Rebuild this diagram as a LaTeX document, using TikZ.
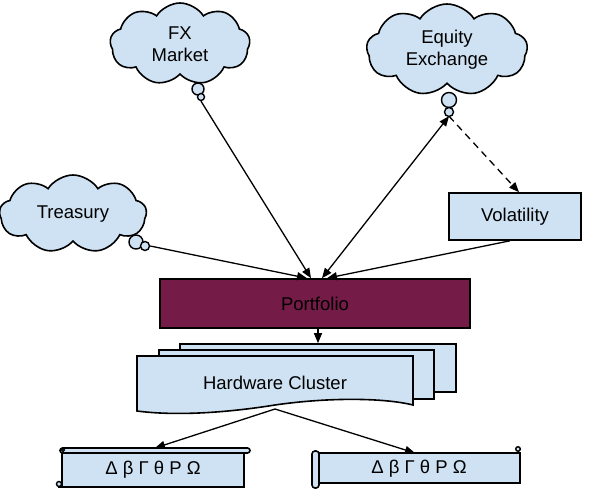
\documentclass[tikz,border=0pt]{standalone}
\usepackage{fontspec}
\setmainfont{Liberation Sans}
\usetikzlibrary{shapes.symbols,arrows.meta}
\definecolor{lb}{HTML}{CFE2F3}
\definecolor{maroonfill}{HTML}{741B47}
\begin{document}
\begin{tikzpicture}[x=1pt,y=-1pt, font=\fontsize{18.5}{22}\selectfont,
  sh/.style={draw=black, line width=1.6pt, fill=lb},
  cl/.style={sh, cloud, cloud puffs=9, cloud puff arc=115, cloud ignores aspect, inner sep=0pt, align=center},
  bub/.style={sh, circle, inner sep=0pt, line width=1.4pt},
  arr/.style={line width=1.3pt, -{Triangle[length=10pt,width=8pt]}},
  darr/.style={line width=1.3pt, {Triangle[length=10pt,width=8pt]}-{Triangle[length=10pt,width=8pt]}},
  bx/.style={sh, rectangle, inner sep=0pt}]
\useasboundingbox (0,0) rectangle (594,489);

% clouds
\node[cl, minimum width=140pt, minimum height=82pt] (fx) at (180,44) {FX\\Market};
\node[cl, minimum width=161pt, minimum height=92pt] (eq) at (447,50) {Equity\\Exchange};
\node[cl, minimum width=147pt, minimum height=78pt] (tr) at (73,214) {Treasury};
\node[bub, minimum size=12pt] (fxb1) at (198,89) {};
\node[bub, minimum size=7pt] (fxb2) at (201,97) {};
\node[bub, minimum size=15pt] (eqb1) at (449,100) {};
\node[bub, minimum size=9pt] (eqb2) at (449,112) {};
\node[bub, minimum size=14pt] (trb1) at (136,242) {};
\node[bub, minimum size=9pt] (trb2) at (145,246) {};

% boxes
\node[bx, minimum width=132pt, minimum height=47pt] (vol) at (515,216.5) {Volatility};
\node[bx, fill=maroonfill, minimum width=310pt, minimum height=49pt] (port) at (315,303.5) {Portfolio};

% hardware cluster
\node[bx, minimum width=276pt, minimum height=48pt] (hwback) at (318,368) {};
\node[bx, minimum width=275pt, minimum height=49pt] (hwmid) at (296.5,374.5) {};
\draw[sh] (137,356) -- (413,356) -- (413,405)
  .. controls (385,398) and (330,397) .. (275,405)
  .. controls (225,413) and (175,416) .. (137,411) -- cycle;
\node (hw) at (275,383) {Hardware Cluster};
\coordinate (hwbot) at (275,409);

% left scroll
\fill[lb] (62,452) rectangle (244,487);
\draw[line width=1.6pt] (62,452) -- (62,486) (58,487) -- (244,487) -- (244,452);
\draw[line width=1.4pt, fill=lb] (59,484) circle (2.5);
\draw[sh, rounded corners=2.5pt] (60,448) rectangle (250,453);
\draw[line width=1.2pt] (63,450) circle (1.5);
\node (s1) at (153,470) {Δ β Γ θ Ρ Ω};
\coordinate (s1top) at (155,448);

% right scroll
\draw[sh] (318,453) rectangle (520,483);
\draw[line width=1.4pt, fill=lb] (518,449) circle (2.3);
\draw[sh, rounded corners=3pt] (312,451) rectangle (319,488);
\node (s2) at (419,469) {Δ β Γ θ Ρ Ω};
\coordinate (s2top) at (415,453);

% connectors
\draw[arr] (fxb2.south) -- ([xshift=-4pt]port.north);
\draw[arr] (trb2.east) -- ([xshift=-8pt]port.north);
\draw[darr] ([xshift=7pt]port.north) -- ([yshift=1pt]eqb2.south);
\draw[arr] ([xshift=-5pt]vol.south) -- ([xshift=12pt]port.north);
\draw[arr, dash pattern=on 7pt off 5pt] ([yshift=1pt]eqb2.south) -- ([xshift=4pt]vol.north);
\draw[arr] (port.south -| hwback.north) -- (hwback.north);
\draw[arr] (hwbot) -- (s1top);
\draw[arr] (hwbot) -- (s2top);
\end{tikzpicture}
\end{document}
